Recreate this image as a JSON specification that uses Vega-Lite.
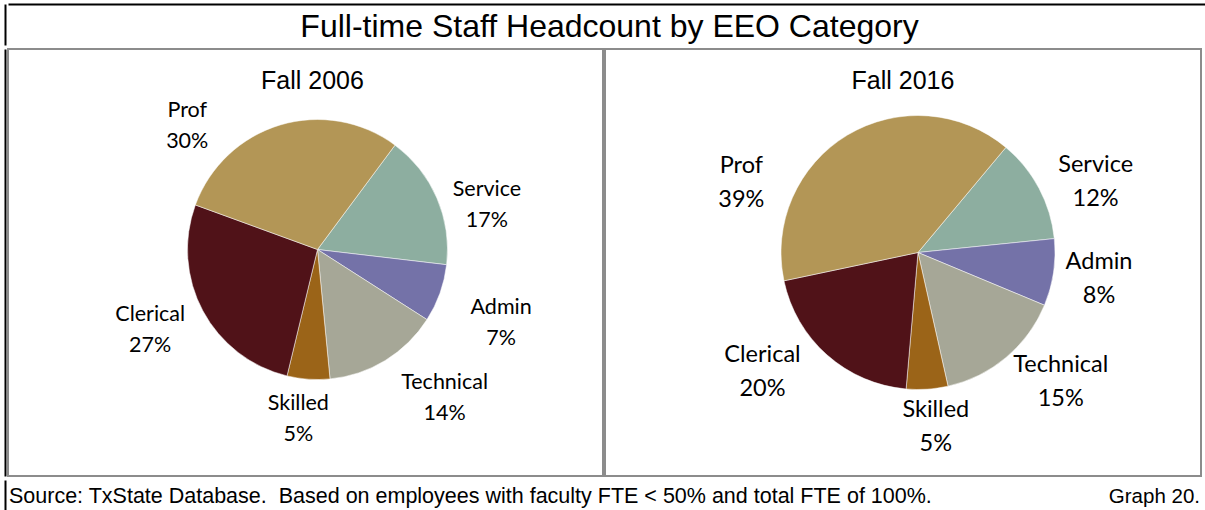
{
  "$schema": "https://vega.github.io/schema/vega-lite/v6.json",
  "padding": {"left": 4, "top": 4, "right": 0, "bottom": 0},
  "background": "white",
  "config": {"view": {"stroke": null}, "font": "Liberation Sans"},
  "spacing": 0,
  "vconcat": [
    {
      "width": 1197,
      "height": 41,
      "view": {"stroke": null},
      "data": {"values": [{"t": "Full-time Staff Headcount by EEO Category"}]},
      "layer": [
        {
          "mark": {"type": "text", "font": "Liberation Sans", "fontSize": 32, "fill": "#000000", "dy": 2, "dx": 3},
          "encoding": {"text": {"field": "t", "type": "nominal"}}
        },
        {
          "mark": {"type": "point", "opacity": 0},
          "encoding": {
            "x": {"datum": 0, "type": "quantitative", "scale": {"domain": [0, 1]}, "axis": {"orient": "top", "values": [], "domainColor": "#000000", "domainWidth": 2, "ticks": false, "tickSize": 0, "labels": false, "grid": false, "title": null}},
            "y": {"datum": 0, "type": "quantitative", "scale": {"domain": [0, 1]}, "axis": {"orient": "left", "values": [], "offset": 3, "domainColor": "#000000", "domainWidth": 2, "ticks": false, "tickSize": 0, "labels": false, "grid": false, "title": null}}
          }
        }
      ]
    },
    {
      "spacing": 0,
      "resolve": {"scale": {"theta": "independent", "y": "independent"}},
      "hconcat": [
        {
          "width": 595,
          "height": 427,
          "view": {"stroke": "#8c8c8c", "strokeWidth": 2},
          "title": {"text": "Fall 2006", "font": "Liberation Sans", "fontSize": 25, "fontWeight": "normal", "color": "#000000", "offset": -45, "dx": 7},
          "data": {"values": [
            {"cat": "Service", "idx": 1, "share": 0.167},
            {"cat": "Admin", "idx": 2, "share": 0.072},
            {"cat": "Technical", "idx": 3, "share": 0.144},
            {"cat": "Skilled", "idx": 4, "share": 0.053},
            {"cat": "Clerical", "idx": 5, "share": 0.268},
            {"cat": "Prof", "idx": 6, "share": 0.296}
          ]},
          "layer": [
            {
              "mark": {"type": "arc", "outerRadius": 130, "xOffset": 12, "yOffset": -13, "stroke": "#ffffff", "strokeWidth": 0.5},
              "encoding": {
                "theta": {"field": "share", "type": "quantitative", "stack": true, "scale": {"domain": [0, 1], "range": [0.6388, 6.922]}},
                "order": {"field": "idx", "type": "quantitative"},
                "color": {"field": "cat", "type": "nominal", "legend": null, "scale": {"domain": ["Prof", "Service", "Admin", "Technical", "Skilled", "Clerical"], "range": ["#b39656", "#8daea0", "#7472a8", "#a6a797", "#9b6418", "#501218"]}}
              }
            },
            {
              "mark": {"type": "text", "font": "Lato", "fontSize": 21.5, "fill": "#000000", "xOffset": 12, "yOffset": -13, "dy": -15.5,
                "radius": {"expr": "datum.cat === 'Prof' ? 179 : datum.cat === 'Service' ? 175 : datum.cat === 'Admin' ? 198 : datum.cat === 'Technical' ? 196 : datum.cat === 'Skilled' ? 171 : 186"},
                "thetaOffset": {"expr": "datum.cat === 'Prof' ? -0.524 : datum.cat === 'Service' ? 0.155 : datum.cat === 'Admin' ? 0.04 : datum.cat === 'Technical' ? -0.157 : datum.cat === 'Skilled' ? 0.042 : 0.04"}},
              "encoding": {
                "theta": {"field": "share", "type": "quantitative", "stack": true},
                "order": {"field": "idx", "type": "quantitative"},
                "detail": {"field": "cat", "type": "nominal"},
                "text": {"field": "cat", "type": "nominal"}
              }
            },
            {
              "mark": {"type": "text", "font": "Lato", "fontSize": 21.5, "fill": "#000000", "xOffset": 12, "yOffset": -13, "dy": 15.5,
                "radius": {"expr": "datum.cat === 'Prof' ? 179 : datum.cat === 'Service' ? 175 : datum.cat === 'Admin' ? 198 : datum.cat === 'Technical' ? 196 : datum.cat === 'Skilled' ? 171 : 186"},
                "thetaOffset": {"expr": "datum.cat === 'Prof' ? -0.524 : datum.cat === 'Service' ? 0.155 : datum.cat === 'Admin' ? 0.04 : datum.cat === 'Technical' ? -0.157 : datum.cat === 'Skilled' ? 0.042 : 0.04"}},
              "encoding": {
                "theta": {"field": "share", "type": "quantitative", "stack": true},
                "order": {"field": "idx", "type": "quantitative"},
                "detail": {"field": "cat", "type": "nominal"},
                "text": {"field": "share", "type": "quantitative", "format": ".0%"}
              }
            },
            {
              "mark": {"type": "point", "opacity": 0},
              "encoding": {
                "y": {"datum": 0, "type": "quantitative", "scale": {"domain": [0, 1]}, "axis": {"orient": "left", "values": [], "offset": 3, "domainColor": "#000000", "domainWidth": 2, "ticks": false, "tickSize": 0, "labels": false, "grid": false, "title": null}}
              }
            }
          ]
        },
        {
          "width": 596,
          "height": 427,
          "view": {"stroke": "#8c8c8c", "strokeWidth": 2},
          "title": {"text": "Fall 2016", "font": "Liberation Sans", "fontSize": 25, "fontWeight": "normal", "color": "#000000", "offset": -45},
          "data": {"values": [
            {"cat": "Service", "idx": 1, "share": 0.123},
            {"cat": "Admin", "idx": 2, "share": 0.079},
            {"cat": "Technical", "idx": 3, "share": 0.152},
            {"cat": "Skilled", "idx": 4, "share": 0.049},
            {"cat": "Clerical", "idx": 5, "share": 0.203},
            {"cat": "Prof", "idx": 6, "share": 0.394}
          ]},
          "encoding": {
            "theta": {"field": "share", "type": "quantitative", "stack": true, "scale": {"domain": [0, 1], "range": [0.6964, 6.9796]}},
            "order": {"field": "idx", "type": "quantitative"},
            "detail": {"field": "cat", "type": "nominal"}
          },
          "layer": [
            {
              "mark": {"type": "arc", "outerRadius": 137, "xOffset": 15, "yOffset": -10, "stroke": "#ffffff", "strokeWidth": 0.5},
              "encoding": {"color": {"field": "cat", "type": "nominal", "legend": null, "scale": {"domain": ["Prof", "Service", "Admin", "Technical", "Skilled", "Clerical"], "range": ["#b39656", "#8daea0", "#7472a8", "#a6a797", "#9b6418", "#501218"]}}}
            },
            {
              "mark": {"type": "text", "font": "Lato", "fontSize": 23.5, "fill": "#000000", "xOffset": 15, "yOffset": -10, "dy": -17,
                "radius": {"expr": "datum.cat === 'Prof' ? 190 : datum.cat === 'Service' ? 191 : datum.cat === 'Admin' ? 183 : datum.cat === 'Technical' ? 193 : datum.cat === 'Skilled' ? 175 : 196"},
                "thetaOffset": {"expr": "datum.cat === 'Prof' ? -0.653 : datum.cat === 'Service' ? 0.112 : datum.cat === 'Admin' ? 0 : datum.cat === 'Technical' ? -0.134 : datum.cat === 'Skilled' ? -0.035 : 0.192"}},
              "encoding": {"text": {"field": "cat", "type": "nominal"}}
            },
            {
              "mark": {"type": "text", "font": "Lato", "fontSize": 23.5, "fill": "#000000", "xOffset": 15, "yOffset": -10, "dy": 17,
                "radius": {"expr": "datum.cat === 'Prof' ? 190 : datum.cat === 'Service' ? 191 : datum.cat === 'Admin' ? 183 : datum.cat === 'Technical' ? 193 : datum.cat === 'Skilled' ? 175 : 196"},
                "thetaOffset": {"expr": "datum.cat === 'Prof' ? -0.653 : datum.cat === 'Service' ? 0.112 : datum.cat === 'Admin' ? 0 : datum.cat === 'Technical' ? -0.134 : datum.cat === 'Skilled' ? -0.035 : 0.192"}},
              "encoding": {"text": {"field": "share", "type": "quantitative", "format": ".0%"}}
            }
          ]
        }
      ]
    },
    {
      "width": 1191,
      "height": 34,
      "view": {"stroke": null},
      "data": {"values": [
        {"note": "Source: TxState Database.\u00a0 Based on employees with faculty FTE < 50% and total FTE of 100%.", "side": "left"},
        {"note": "Graph 20.", "side": "right"}
      ]},
      "layer": [
        {
          "transform": [{"filter": "datum.side === 'left'"}],
          "mark": {"type": "text", "align": "left", "font": "Liberation Sans", "fontSize": 21.5, "fill": "#000000", "dx": 1},
          "encoding": {
            "x": {"field": "side", "type": "nominal", "scale": {"type": "point", "domain": ["left", "right"], "padding": 0}, "axis": null},
            "text": {"field": "note", "type": "nominal"}
          }
        },
        {
          "transform": [{"filter": "datum.side === 'right'"}],
          "mark": {"type": "text", "align": "right", "font": "Liberation Sans", "fontSize": 20.5, "fill": "#000000", "dx": 1},
          "encoding": {
            "x": {"field": "side", "type": "nominal", "scale": {"type": "point", "domain": ["left", "right"], "padding": 0}, "axis": null},
            "text": {"field": "note", "type": "nominal"}
          }
        },
        {
          "mark": {"type": "point", "opacity": 0},
          "encoding": {
            "y": {"datum": 0, "type": "quantitative", "scale": {"domain": [0, 1]}, "axis": {"orient": "left", "values": [], "offset": 3, "domainColor": "#000000", "domainWidth": 2, "ticks": false, "tickSize": 0, "labels": false, "grid": false, "title": null}}
          }
        }
      ]
    }
  ]
}
